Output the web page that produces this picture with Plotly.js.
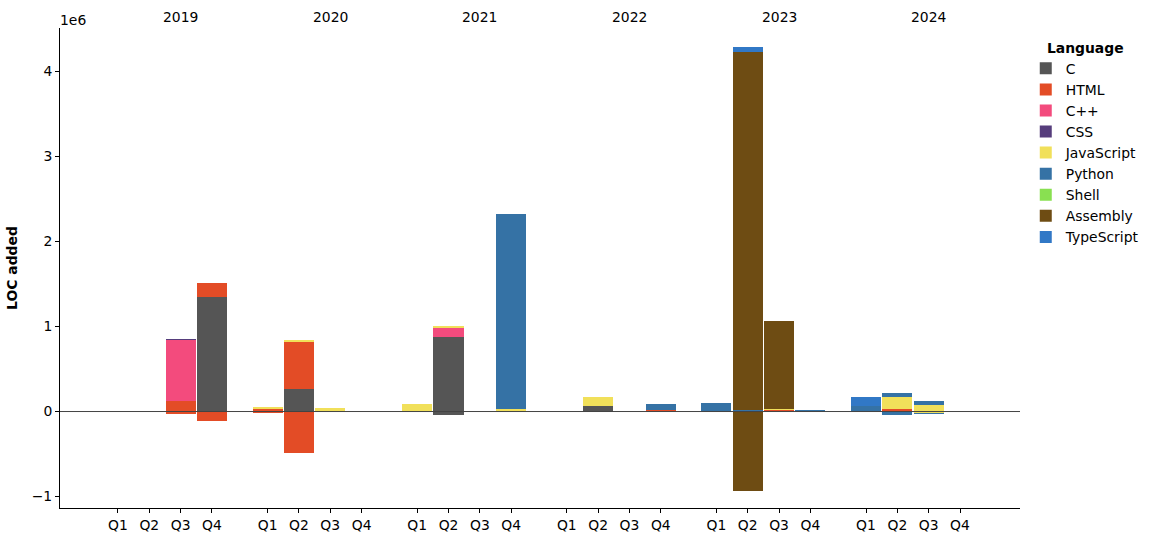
<!DOCTYPE html>
<html><head><meta charset="utf-8">
<script src="https://cdn.plot.ly/plotly-3.0.1.min.js"></script>
<style>body{margin:0;padding:0;background:#fff}#chart{width:1159px;height:542px}</style>
</head><body><div id="chart"></div>
<script>
const years = ['2019','2020','2021','2022','2023','2024'];
const quarters = ['Q1','Q2','Q3','Q4'];
const languages = ['C','HTML','C++','CSS','JavaScript','Python','Shell','Assembly','TypeScript'];
const colors = ['#555555','#e34c26','#f34b7d','#563d7c','#f1e05a','#3572A5','#89e051','#6E4C13','#3178c6'];

// values per quarter, 2019Q1 ... 2024Q4 (24 entries), positive part and negative part
//                 2019: Q1 Q2 Q3 Q4        2020: Q1 Q2 Q3 Q4          2021: Q1 Q2 Q3 Q4          2022                     2023                        2024
const C_pos      = [0,0,0,1345000,          0,263000,0,0,              0,874000,0,0,              0,63000,0,0,              0,0,0,0,                    0,0,0,0];
const C_neg      = [0,0,0,0,                0,0,0,0,                   0,-43000,0,0,              0,0,0,0,                  0,0,0,0,                    0,0,0,0];
const HTML_pos   = [0,0,120000,165000,      25000,553000,0,0,          0,0,0,0,                   0,0,0,20000,              0,0,15000,0,                0,28000,0,0];
const HTML_neg   = [0,0,-30000,-110000,     -20000,-486000,0,0,        0,0,0,0,                   -5000,0,0,0,              0,0,0,0,                    0,0,0,0];
const CPP_pos    = [0,0,720000,0,           0,0,0,0,                   0,106000,0,0,              0,0,0,0,                  0,0,0,0,                    0,0,0,0];
const CPP_neg    = [0,0,0,0,                0,0,0,0,                   0,0,0,0,                   0,0,0,0,                  0,0,0,0,                    0,0,0,0];
const CSS_pos    = [0,0,12000,0,            0,0,0,0,                   0,0,0,0,                   0,0,0,0,                  0,0,0,0,                    0,0,0,0];
const CSS_neg    = [0,0,0,0,                0,0,0,0,                   0,0,0,0,                   0,0,0,0,                  0,0,0,0,                    0,0,0,0];
const JS_pos     = [0,0,0,0,                25000,24000,40000,0,       86000,24000,0,28000,       0,106000,0,0,             0,0,15000,0,                0,140000,75000,0];
const JS_neg     = [0,0,0,0,                0,0,0,0,                   0,0,0,0,                   0,0,0,0,                  0,0,0,0,                    0,0,-15000,0];
const PY_pos     = [0,0,0,0,                0,0,0,0,                   0,0,0,2290000,             0,0,0,67000,              98000,16000,0,16000,        63000,47000,47000,0];
const PY_neg     = [0,0,0,0,                0,0,0,0,                   0,0,0,0,                   0,0,0,-5000,              0,-10000,-5000,0,           0,-40000,-10000,0];
const SH_pos     = [0,0,0,0,                0,0,0,0,                   0,0,0,0,                   0,0,0,0,                  0,0,0,0,                    0,0,0,0];
const SH_neg     = [0,0,0,0,                0,0,0,0,                   0,0,0,0,                   0,0,0,0,                  0,0,0,0,                    0,0,0,0];
const ASM_pos    = [0,0,0,0,                0,0,0,0,                   0,0,0,0,                   0,0,0,0,                  0,4210000,1035000,0,        0,0,0,0];
const ASM_neg    = [0,0,0,0,                0,0,0,0,                   0,0,0,0,                   0,-4000,0,0,              0,-925000,0,-5000,          0,0,0,0];
const TS_pos     = [0,0,0,0,                0,0,0,0,                   0,0,0,0,                   0,0,0,0,                  0,60000,0,0,                106000,0,0,0];
const TS_neg     = [0,0,0,0,                0,0,0,0,                   0,0,0,0,                   0,0,0,0,                  0,0,0,0,                    0,0,0,0];

const posSeries = [C_pos,HTML_pos,CPP_pos,CSS_pos,JS_pos,PY_pos,SH_pos,ASM_pos,TS_pos];
const negSeries = [C_neg,HTML_neg,CPP_neg,CSS_neg,JS_neg,PY_neg,SH_neg,ASM_neg,TS_neg];

const GROUP = 4.775;
const FS = 13.9;
const xs = [], tickText = [];
years.forEach((y, yi) => quarters.forEach((q, qi) => { xs.push(yi*GROUP + qi); tickText.push(q); }));
const nz = a => a.map(v => v === 0 ? null : v);

const traces = [];
languages.forEach((lang, i) => {
  traces.push({type:'bar', name:lang, x:xs, y:nz(posSeries[i]), width:0.96,
    marker:{color:colors[i], line:{width:0}}, legendgroup:lang, showlegend:true, hoverinfo:'x+y+name'});
});
languages.forEach((lang, i) => {
  traces.push({type:'bar', name:lang, x:xs, y:nz(negSeries[i]), width:0.96,
    marker:{color:colors[i], line:{width:0}}, legendgroup:lang, showlegend:false, hoverinfo:'x+y+name'});
});

const annotations = years.map((y, yi) => ({
  text:y, x: yi*GROUP + 2, xref:'x', y:1.023, yref:'paper', showarrow:false,
  xanchor:'center', yanchor:'middle', font:{size:FS, color:'#000'}
}));
annotations.push({text:'1e6', x:-0.002, xref:'paper', xanchor:'left', y:1.017, yref:'paper', yanchor:'middle',
  showarrow:false, font:{size:FS, color:'#000'}});

const layout = {
  width:1159, height:542,
  margin:{l:60, r:139, t:28, b:34},
  paper_bgcolor:'#fff', plot_bgcolor:'#fff',
  font:{family:'DejaVu Sans', size:FS, color:'#000'},
  barmode:'relative', bargap:0,
  showlegend:true,
  legend:{x:1.006, y:0.986, xanchor:'left', yanchor:'top', traceorder:'normal',
    title:{text:'<b>Language</b>', side:'top center', font:{size:FS}}, font:{size:FS}, itemwidth:30, tracegroupgap:0},
  xaxis:{range:[-1.851, 28.79], tickmode:'array', tickvals:xs, ticktext:tickText,
    showline:true, linecolor:'#000', linewidth:1, ticks:'outside', ticklen:4, tickcolor:'#000',
    showgrid:false, zeroline:false, mirror:false, fixedrange:true},
  yaxis:{range:[-1135000, 4512000], tickmode:'array', tickvals:[-1e6,0,1e6,2e6,3e6,4e6],
    ticktext:['\u22121','0','1','2','3','4'],
    showline:true, linecolor:'#000', linewidth:1, ticks:'outside', ticklen:4, tickcolor:'#000',
    showgrid:false, zeroline:false,
    title:{text:'<b>LOC added</b>', font:{size:FS}, standoff:10}},
  shapes:[{type:'line', xref:'paper', x0:0, x1:1, yref:'y', y0:0, y1:0, layer:'above',
    line:{color:'#444', width:1}}],
  annotations:annotations
};
Plotly.newPlot('chart', traces, layout, {displayModeBar:false, staticPlot:true});
</script></body></html>
